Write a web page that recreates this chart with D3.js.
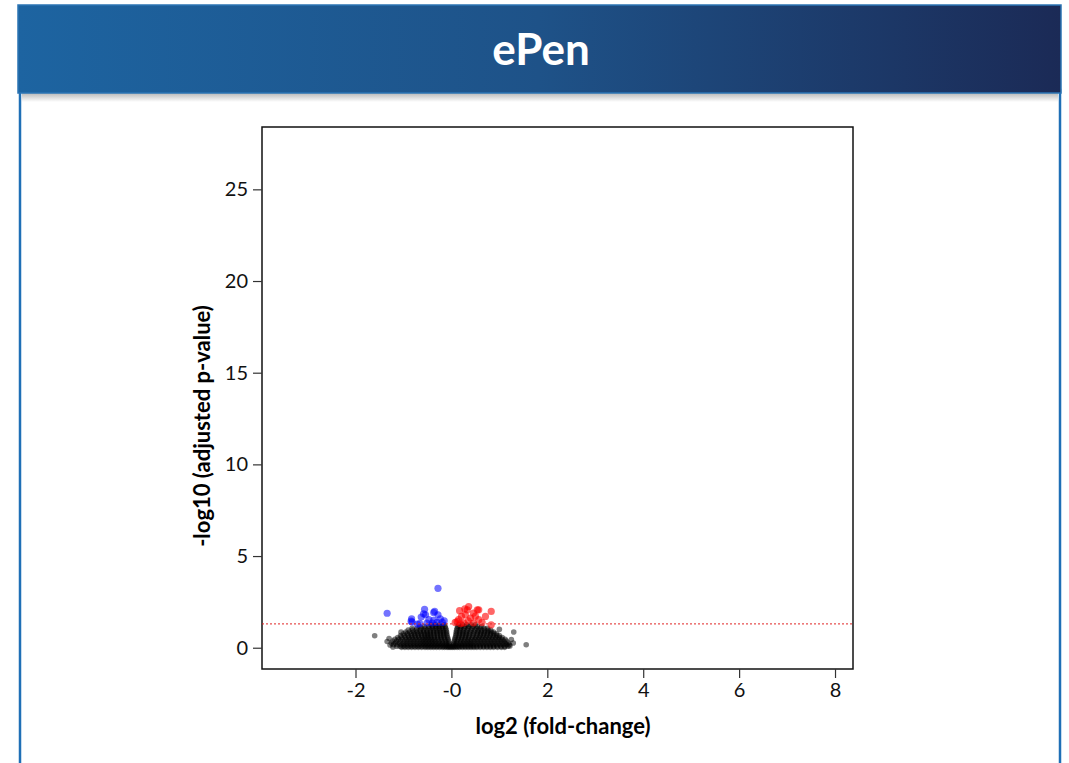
<!DOCTYPE html>
<html>
<head>
<script src="https://d3js.org/d3.v7.min.js"></script>
<style>
  body { margin: 0; background: #fff; }
</style>
</head>
<body>
<svg class="target" width="1069" height="763"></svg>
<script>

// ---- data ----
title = 'ePen'
xLabel = 'log2 (fold-change)'
yLabel = '-log10 (adjusted p-value)'
xTicks = [-2, 0, 2, 4, 6, 8]
xTickText = ['-2', '-0', '2', '4', '6', '8']
yTicks = [0, 5, 10, 15, 20, 25]
threshold = 1.3   // -log10(0.05)

// significant down (blue) [log2fc, -log10 padj]
downPts = [[-0.28,3.24],[-1.34,1.88],[-0.56,2.10],[-0.35,1.98],[-0.83,1.58],[-0.63,1.67],
  [-0.54,1.80],[-0.28,1.80],[-0.19,1.38],[-0.71,1.29],[-0.82,1.40],[-0.47,1.53],[-0.37,1.49],
  [-0.40,1.35],[-0.30,1.38],[-0.51,1.35],[-0.66,1.31],[-0.23,1.58],[-0.58,1.85],[-0.37,1.92],
  [-0.15,1.47],[-0.84,1.45]]

// significant up (red)
upPts = [[0.36,2.25],[0.17,2.02],[0.83,1.98],[0.57,2.07],[0.46,1.89],[0.29,1.80],[0.71,1.71],
  [0.15,1.53],[0.40,1.62],[0.57,1.53],[0.08,1.38],[0.83,1.25],[0.26,1.35],[0.46,1.35],
  [0.64,1.38],[0.33,2.07],[0.21,1.71],[0.54,2.07],[0.12,1.43],[0.19,1.31],[0.35,1.47],
  [0.28,2.12],[0.50,1.72]]

// not significant (black), listed as rows: [-log10 padj, [log2fc ...]]
nsRows = [
  [0.02, [-1.04,-0.97,-0.9,-0.83,-0.76,-0.69,-0.62,-0.55,-0.49,-0.43,-0.37,-0.31,-0.25,-0.19,-0.14,-0.09,-0.05,-0.01,0.03,0.07,0.12,0.17,0.23,0.29,0.35,0.41,0.47,0.53,0.6,0.67,0.74,0.81,0.88,0.96,1.04,1.11]],
  [0.08, [-1.14,-1.07,-1.0,-0.93,-0.86,-0.79,-0.72,-0.66,-0.59,-0.53,-0.47,-0.41,-0.35,-0.29,-0.23,-0.17,-0.12,-0.07,-0.03,0.02,0.06,0.11,0.16,0.22,0.28,0.34,0.4,0.46,0.53,0.6,0.67,0.74,0.81,0.88,0.95,1.03,1.11,1.18]],
  [0.16, [-1.21,-1.13,-1.05,-0.98,-0.91,-0.84,-0.77,-0.7,-0.63,-0.57,-0.51,-0.45,-0.39,-0.33,-0.27,-0.21,-0.15,-0.1,-0.04,0.04,0.09,0.15,0.21,0.27,0.33,0.39,0.45,0.52,0.59,0.66,0.73,0.8,0.87,0.94,1.01,1.08,1.15,1.21]],
  [0.26, [-1.25,-1.17,-1.09,-1.01,-0.94,-0.87,-0.8,-0.73,-0.66,-0.6,-0.54,-0.48,-0.42,-0.36,-0.3,-0.24,-0.18,-0.11,-0.05,0.05,0.11,0.18,0.24,0.3,0.36,0.42,0.49,0.56,0.63,0.7,0.77,0.84,0.91,0.98,1.05,1.12,1.19]],
  [0.36, [-1.22,-1.14,-1.06,-0.98,-0.91,-0.84,-0.77,-0.7,-0.63,-0.57,-0.51,-0.45,-0.39,-0.33,-0.26,-0.19,-0.12,-0.06,0.06,0.12,0.19,0.26,0.33,0.39,0.46,0.53,0.6,0.67,0.74,0.81,0.88,0.95,1.02,1.09,1.15]],
  [0.46, [-1.18,-1.1,-1.02,-0.94,-0.87,-0.8,-0.73,-0.66,-0.59,-0.53,-0.47,-0.41,-0.35,-0.28,-0.21,-0.14,-0.07,0.07,0.14,0.21,0.28,0.35,0.42,0.49,0.56,0.63,0.7,0.77,0.84,0.91,0.98,1.05,1.12]],
  [0.56, [-1.12,-1.04,-0.96,-0.89,-0.82,-0.75,-0.68,-0.61,-0.55,-0.49,-0.43,-0.36,-0.29,-0.22,-0.15,-0.08,0.08,0.15,0.22,0.29,0.36,0.44,0.51,0.58,0.65,0.72,0.79,0.86,0.93,1.0,1.06]],
  [0.66, [-1.06,-0.98,-0.9,-0.83,-0.76,-0.69,-0.62,-0.55,-0.49,-0.43,-0.36,-0.29,-0.22,-0.16,-0.09,0.09,0.16,0.23,0.3,0.37,0.45,0.53,0.6,0.67,0.74,0.81,0.88,0.95,1.0]],
  [0.76, [-1.0,-0.92,-0.84,-0.77,-0.7,-0.63,-0.56,-0.5,-0.44,-0.37,-0.3,-0.23,-0.16,-0.1,0.1,0.17,0.24,0.31,0.38,0.46,0.54,0.61,0.68,0.75,0.82,0.89,0.94]],
  [0.86, [-0.95,-0.87,-0.79,-0.72,-0.65,-0.58,-0.51,-0.44,-0.37,-0.3,-0.23,-0.17,-0.1,0.1,0.17,0.24,0.31,0.39,0.47,0.55,0.62,0.69,0.76,0.83,0.88]],
  [0.96, [-0.9,-0.81,-0.73,-0.65,-0.58,-0.51,-0.44,-0.37,-0.3,-0.24,-0.17,-0.11,0.11,0.18,0.25,0.33,0.41,0.49,0.56,0.63,0.7,0.77,0.82]],
  [1.06, [-0.82,-0.72,-0.63,-0.55,-0.47,-0.4,-0.33,-0.26,-0.19,-0.12,0.12,0.19,0.27,0.35,0.43,0.52,0.6,0.68,0.75]],
  [1.16, [-0.66,-0.56,-0.47,-0.39,-0.32,-0.25,-0.19,-0.13,0.13,0.2,0.28,0.36,0.45,0.54,0.63]],
  [1.25, [-0.42,-0.33,-0.25,-0.15,0.15,0.23,0.32,0.41,0.5]]
]
nsOutliers = [[-1.6,0.65],[-1.34,0.34],[-1.22,0.04],[-1.3,0.5],[1.56,0.16],[1.3,0.86],
  [1.29,0.26],[1.25,0.45],[1.22,0.1],[-1.28,0.15],[1.0,1.0],[-1.05,0.85]]

nsPts = nsRows.flatMap(r => r[1].map(x => [x, r[0]])).concat(nsOutliers)

// ---- layout ----
svg = d3.select('.target')
plot = { left: 262, right: 853, top: 127, bottom: 669 }
font = 'Lato, "Open Sans", sans-serif'

x = d3.scaleLinear().domain([-3.95, 8.375]).range([plot.left, plot.right])
y = d3.scaleLinear().domain([-1.16, 28.4]).range([plot.bottom, plot.top])

defs = svg.append('defs')
grad = defs.append('linearGradient').attr('id', 'hdr')
grad.append('stop').attr('offset', '0%').attr('stop-color', '#1d64a1')
grad.append('stop').attr('offset', '50%').attr('stop-color', '#1e5288')
grad.append('stop').attr('offset', '100%').attr('stop-color', '#1b2a56')
shadow = defs.append('linearGradient').attr('id', 'shd').attr('x1', 0).attr('x2', 0).attr('y1', 0).attr('y2', 1)
shadow.append('stop').attr('offset', '0%').attr('stop-color', '#b8b8b8')
shadow.append('stop').attr('offset', '100%').attr('stop-color', '#ffffff')

// panel borders
svg.append('rect').attr('x', 20).attr('y', 90).attr('width', 1040).attr('height', 680)
  .style('fill', 'white').style('stroke', '#1f6fb6').style('stroke-width', 2.5)
svg.append('rect').attr('x', 22).attr('y', 93).attr('width', 1036).attr('height', 9)
  .style('fill', 'url(#shd)')

// header
svg.append('rect').attr('x', 18).attr('y', 5).attr('width', 1043).attr('height', 88)
  .style('fill', 'url(#hdr)').style('stroke', '#2b74b4').style('stroke-width', 1.5)
svg.append('text').attr('x', 541).attr('y', 65).attr('text-anchor', 'middle')
  .style('font-family', font).style('font-weight', 'bold')
  .style('font-size', '44px').style('fill', 'white').text(title)

// plot box
svg.append('rect').attr('x', plot.left).attr('y', plot.top)
  .attr('width', plot.right - plot.left).attr('height', plot.bottom - plot.top)
  .style('fill', 'none').style('stroke', '#111').style('stroke-width', 1.5)

// axes
xAxis = svg.append('g').attr('transform', `translate(0,${plot.bottom})`)
  .call(d3.axisBottom(x).tickValues(xTicks).tickFormat((d, i) => xTickText[i]).tickSize(9).tickPadding(5))
yAxis = svg.append('g').attr('transform', `translate(${plot.left},0)`)
  .call(d3.axisLeft(y).tickValues(yTicks).tickSize(9).tickPadding(5))
svg.selectAll('.domain').remove()
svg.selectAll('.tick line').style('stroke', '#333').style('stroke-width', 1.2)
svg.selectAll('.tick text').style('font-family', font)
  .style('font-size', '20px').style('fill', '#111')

// axis titles
svg.append('text').attr('x', 563).attr('y', 734).attr('text-anchor', 'middle')
  .style('font-family', font).style('font-weight', 'bold')
  .style('font-size', '22px').text(xLabel)
svg.append('text').attr('transform', 'translate(210,426) rotate(-90)').attr('text-anchor', 'middle')
  .style('font-family', font).style('font-weight', 'bold')
  .style('font-size', '22px').text(yLabel)

// points
pts = svg.append('g')
pts.selectAll('circle.ns').data(nsPts).join('circle').attr('class', 'ns')
  .attr('cx', d => x(d[0])).attr('cy', d => y(d[1])).attr('r', 2.8)
  .style('fill', 'black').style('fill-opacity', 0.5)
pts.selectAll('circle.dn').data(downPts).join('circle').attr('class', 'dn')
  .attr('cx', d => x(d[0])).attr('cy', d => y(d[1])).attr('r', 3.6)
  .style('fill', '#0000ff').style('fill-opacity', 0.55)
pts.selectAll('circle.up').data(upPts).join('circle').attr('class', 'up')
  .attr('cx', d => x(d[0])).attr('cy', d => y(d[1])).attr('r', 3.6)
  .style('fill', '#ff0000').style('fill-opacity', 0.6)

// threshold line
svg.append('line').attr('x1', plot.left).attr('x2', plot.right)
  .attr('y1', y(threshold)).attr('y2', y(threshold))
  .style('stroke', '#e02424').style('stroke-width', 1).style('stroke-dasharray', '2,2')

</script>
</body>
</html>
